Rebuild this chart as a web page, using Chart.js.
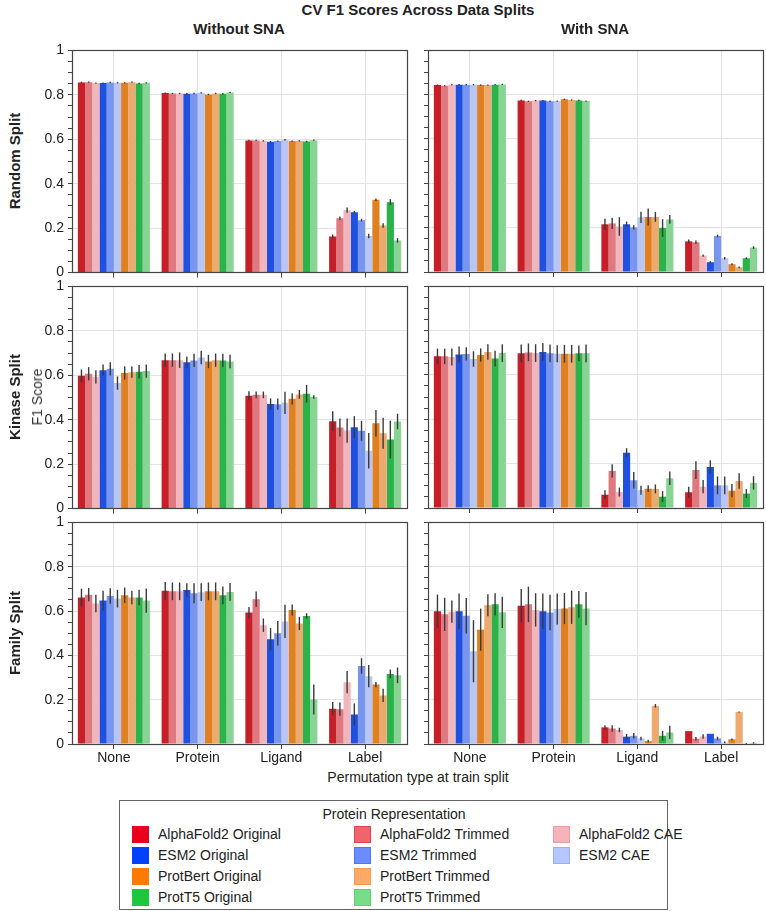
<!DOCTYPE html>
<html>
<head>
<meta charset="utf-8">
<script src="https://cdn.jsdelivr.net/npm/chart.js@4.4.1/dist/chart.umd.min.js"></script>
<style>
  html, body { margin:0; padding:0; background:#fff; }
  #fig { position:relative; width:766px; height:911px; overflow:hidden; font-family:"Liberation Sans", Arial, sans-serif; color:#222; }
  canvas { position:absolute; }
  .txt { position:absolute; white-space:nowrap; }
  .title { font-weight:bold; font-size:15px; transform:translate(-50%,-50%); }
  .col { font-weight:bold; font-size:15px; transform:translate(-50%,-50%); }
  .row { font-weight:bold; font-size:15px; transform:translate(-50%,-50%) rotate(-90deg); }
  .ylab { font-size:14px; color:#333; transform:translate(-50%,-50%) rotate(-90deg); }
  .xlab { font-size:14px; transform:translate(-50%,-50%); }
  #legend { position:absolute; left:119px; top:800px; width:549px; height:110px; border:1px solid #666; box-sizing:border-box; }
  .lgtitle { position:absolute; font-size:14px; white-space:nowrap; transform:translate(-50%,-50%); }
  .sw { position:absolute; width:17px; height:17px; box-sizing:border-box; }
  .lt { position:absolute; font-size:14px; white-space:nowrap; transform:translateY(-50%); }
</style>
</head>
<body>
<div id="fig"></div>
<script>
// ---------- data ----------
const categories = ["None", "Protein", "Ligand", "Label"];
const seriesNames = [
  "AlphaFold2 Original", "AlphaFold2 Trimmed", "AlphaFold2 CAE",
  "ESM2 Original", "ESM2 Trimmed", "ESM2 CAE",
  "ProtBert Original", "ProtBert Trimmed",
  "ProtT5 Original", "ProtT5 Trimmed"
];
const yTicks = [0, 0.2, 0.4, 0.6, 0.8, 1];

// rows = series (order above), columns = categories
const randomWithout = [
  [0.856, 0.808, 0.595, 0.163],
  [0.857, 0.806, 0.595, 0.245],
  [0.853, 0.806, 0.593, 0.281],
  [0.853, 0.805, 0.589, 0.272],
  [0.856, 0.806, 0.592, 0.236],
  [0.854, 0.809, 0.598, 0.165],
  [0.854, 0.802, 0.592, 0.328],
  [0.857, 0.806, 0.593, 0.212],
  [0.851, 0.805, 0.590, 0.317],
  [0.854, 0.811, 0.596, 0.145]
];
const randomWithoutErr = [
  [0.003, 0.003, 0.003, 0.008],
  [0.003, 0.003, 0.003, 0.008],
  [0.003, 0.003, 0.003, 0.012],
  [0.003, 0.003, 0.003, 0.006],
  [0.003, 0.003, 0.003, 0.006],
  [0.003, 0.003, 0.003, 0.010],
  [0.003, 0.003, 0.003, 0.006],
  [0.003, 0.003, 0.003, 0.010],
  [0.003, 0.003, 0.003, 0.013],
  [0.003, 0.003, 0.003, 0.010]
];
const randomWith = [
  [0.842, 0.773, 0.215, 0.138],
  [0.839, 0.769, 0.219, 0.134],
  [0.844, 0.772, 0.205, 0.074],
  [0.844, 0.772, 0.215, 0.044],
  [0.844, 0.769, 0.201, 0.162],
  [0.844, 0.770, 0.246, 0.062],
  [0.842, 0.778, 0.248, 0.035],
  [0.842, 0.775, 0.248, 0.021],
  [0.844, 0.773, 0.198, 0.062],
  [0.845, 0.770, 0.237, 0.110]
];
const randomWithErr = [
  [0.003, 0.003, 0.025, 0.008],
  [0.003, 0.003, 0.025, 0.008],
  [0.003, 0.003, 0.042, 0.005],
  [0.003, 0.003, 0.012, 0.005],
  [0.003, 0.003, 0.010, 0.006],
  [0.003, 0.003, 0.025, 0.006],
  [0.003, 0.003, 0.038, 0.004],
  [0.003, 0.003, 0.022, 0.004],
  [0.003, 0.003, 0.040, 0.004],
  [0.003, 0.003, 0.020, 0.006]
];
const kinaseWithout = [
  [0.598, 0.668, 0.508, 0.393],
  [0.607, 0.668, 0.512, 0.365],
  [0.593, 0.668, 0.512, 0.351],
  [0.623, 0.659, 0.471, 0.366],
  [0.629, 0.667, 0.470, 0.350],
  [0.565, 0.680, 0.476, 0.260],
  [0.610, 0.662, 0.494, 0.384],
  [0.614, 0.668, 0.514, 0.339],
  [0.616, 0.667, 0.517, 0.311],
  [0.619, 0.662, 0.502, 0.392]
];
const kinaseWithoutErr = [
  [0.028, 0.030, 0.020, 0.045],
  [0.030, 0.030, 0.015, 0.040],
  [0.030, 0.035, 0.015, 0.055],
  [0.025, 0.025, 0.025, 0.050],
  [0.030, 0.030, 0.025, 0.045],
  [0.030, 0.030, 0.050, 0.080],
  [0.030, 0.030, 0.025, 0.060],
  [0.025, 0.030, 0.020, 0.070],
  [0.030, 0.030, 0.040, 0.085],
  [0.030, 0.030, 0.008, 0.035]
];
const kinaseWith = [
  [0.683, 0.697, 0.060, 0.071],
  [0.683, 0.701, 0.167, 0.171],
  [0.680, 0.698, 0.072, 0.096],
  [0.692, 0.703, 0.249, 0.185],
  [0.694, 0.697, 0.125, 0.102],
  [0.671, 0.695, 0.080, 0.102],
  [0.689, 0.695, 0.087, 0.078],
  [0.703, 0.695, 0.086, 0.122],
  [0.673, 0.697, 0.051, 0.065],
  [0.698, 0.697, 0.134, 0.113]
];
const kinaseWithErr = [
  [0.035, 0.040, 0.020, 0.025],
  [0.035, 0.040, 0.030, 0.040],
  [0.038, 0.040, 0.020, 0.030],
  [0.035, 0.040, 0.020, 0.030],
  [0.030, 0.040, 0.037, 0.040],
  [0.035, 0.038, 0.020, 0.040],
  [0.030, 0.040, 0.015, 0.030],
  [0.035, 0.040, 0.020, 0.035],
  [0.035, 0.035, 0.025, 0.020],
  [0.040, 0.040, 0.030, 0.030]
];
const familyWithout = [
  [0.661, 0.691, 0.593, 0.159],
  [0.674, 0.689, 0.653, 0.157],
  [0.634, 0.689, 0.536, 0.279],
  [0.647, 0.695, 0.473, 0.133],
  [0.668, 0.680, 0.500, 0.352],
  [0.656, 0.685, 0.553, 0.306],
  [0.671, 0.689, 0.605, 0.268],
  [0.661, 0.689, 0.544, 0.219],
  [0.661, 0.671, 0.578, 0.316],
  [0.647, 0.686, 0.201, 0.310]
];
const familyWithoutErr = [
  [0.040, 0.040, 0.025, 0.030],
  [0.030, 0.040, 0.035, 0.030],
  [0.040, 0.040, 0.030, 0.050],
  [0.045, 0.030, 0.050, 0.050],
  [0.035, 0.045, 0.055, 0.035],
  [0.040, 0.040, 0.075, 0.050],
  [0.035, 0.040, 0.025, 0.012],
  [0.030, 0.040, 0.030, 0.030],
  [0.035, 0.040, 0.012, 0.020],
  [0.055, 0.040, 0.068, 0.035]
];
const familyWith = [
  [0.598, 0.623, 0.075, 0.058],
  [0.584, 0.629, 0.070, 0.024],
  [0.596, 0.604, 0.063, 0.034],
  [0.598, 0.598, 0.033, 0.046],
  [0.578, 0.592, 0.037, 0.025],
  [0.418, 0.608, 0.025, 0.007],
  [0.515, 0.610, 0.013, 0.021],
  [0.625, 0.616, 0.172, 0.144],
  [0.629, 0.629, 0.037, 0.002],
  [0.593, 0.610, 0.052, 0.005]
];
const familyWithErr = [
  [0.075, 0.075, 0.010, 0.000],
  [0.075, 0.080, 0.015, 0.008],
  [0.050, 0.075, 0.010, 0.010],
  [0.080, 0.080, 0.012, 0.000],
  [0.080, 0.080, 0.012, 0.008],
  [0.140, 0.070, 0.008, 0.004],
  [0.095, 0.070, 0.006, 0.004],
  [0.050, 0.075, 0.008, 0.002],
  [0.050, 0.060, 0.022, 0.002],
  [0.070, 0.075, 0.030, 0.003]
];

// ---------- styles ----------
const barColors = ["#c81e28", "#e07880", "#f0b6bc", "#2050e0", "#7896f0", "#b8c6f5", "#e08020", "#ecaa70", "#2cb24a", "#88d492"];
const legendFill = ["#e8001c", "#f0646e", "#f5b4ba", "#0040ff", "#6a8cff", "#b4c8ff", "#ff7a00", "#ffaa66", "#1ec83c", "#78dc88"];
const legendEdge = ["#e8001c", "#e84050", "#f09aa4", "#0040ff", "#5078f0", "#98b0f8", "#ff7a00", "#f89a50", "#1ec83c", "#60d070"];
const legendColumns = [[0, 3, 6, 8], [1, 4, 7, 9], [2, 5]];

const fig = document.getElementById('fig');
function addText(cls, text, x, y) {
  const d = document.createElement('div');
  d.className = 'txt ' + cls; d.textContent = text;
  d.style.left = x + 'px'; d.style.top = y + 'px';
  fig.appendChild(d); return d;
}

const framePlugin = {
  id: 'frame',
  afterDatasetsDraw(chart) {
    const a = chart.chartArea, c = chart.ctx;
    c.save(); c.strokeStyle = '#444'; c.lineWidth = 1.2;
    c.strokeRect(Math.round(a.left) + 0.5, Math.round(a.top) + 0.5, Math.round(a.right - a.left), Math.round(a.bottom - a.top));
    c.restore();
  }
};
const errPlugin = {
  id: 'errbars',
  afterDatasetsDraw(chart) {
    const c = chart.ctx, y = chart.scales.y;
    c.save(); c.strokeStyle = '#3a3a3a'; c.lineWidth = 1.4;
    chart.data.datasets.forEach((ds, i) => {
      const meta = chart.getDatasetMeta(i);
      meta.data.forEach((bar, j) => {
        const v = ds.data[j], e = ds.err[j];
        if (!e) return;
        c.beginPath();
        c.moveTo(bar.x, y.getPixelForValue(v - e));
        c.lineTo(bar.x, y.getPixelForValue(v + e));
        c.stroke();
      });
    });
    c.restore();
  }
};

function isMajor(v) { return Math.round(v * 100) % 20 === 0; }

function panelConfig(values, errors, o) {
  return {
    type: 'bar',
    data: {
      labels: categories,
      datasets: seriesNames.map((s, i) => ({
        label: s, data: values[i], err: errors[i],
        backgroundColor: barColors[i], borderWidth: 0
      }))
    },
    options: {
      responsive: false, animation: false, devicePixelRatio: 1,
      layout: { padding: { top: 8, right: 4, left: 0, bottom: 0 } },
      plugins: { legend: { display: false }, tooltip: { enabled: false } },
      datasets: { bar: { categoryPercentage: 0.86, barPercentage: 1 } },
      scales: {
        x: {
          grid: { offset: false, color: '#e4e4e4', tickColor: '#444', tickLength: 5 },
          border: { display: false },
          ticks: { display: o.showX, color: '#222', padding: 1, font: { family: 'Liberation Sans', size: 14 } },
          afterFit: s => { s.height = o.xH; }
        },
        y: {
          min: 0, max: 1,
          grid: {
            color: c => (c.tick && isMajor(c.tick.value) && c.tick.value > 0.01 && c.tick.value < 0.99) ? '#e4e4e4' : 'rgba(0,0,0,0)',
            tickColor: '#444', tickLength: 4
          },
          border: { display: false },
          ticks: {
            stepSize: 0.05, maxTicksLimit: 21, autoSkip: false, padding: 4,
            display: o.showY, color: '#222', font: { family: 'Liberation Sans', size: 14 },
            callback: v => (yTicks.some(t => Math.abs(t - v) < 1e-6) ? String(+v.toFixed(1)) : '')
          },
          afterFit: s => { s.width = o.yW; }
        }
      }
    },
    plugins: [framePlugin, errPlugin]
  };
}

function newCanvas(w, h) {
  const cv = document.createElement('canvas');
  cv.width = w; cv.height = h;
  cv.style.width = w + 'px'; cv.style.height = h + 'px';
  fig.appendChild(cv);
  return cv;
}

// target plot rectangle: o.left, o.top, o.pw, o.ph (page px)
function makePanel(values, errors, o) {
  // pass 1: measure the layout margins around the plot area
  const w0 = o.pw + 60, h0 = o.ph + 40;
  const probe = newCanvas(w0, h0);
  const c0 = new Chart(probe.getContext('2d'), panelConfig(values, errors, o));
  const a0 = c0.chartArea;
  const dl = a0.left, dt = a0.top, dr = w0 - a0.right, db = h0 - a0.bottom;
  c0.destroy(); probe.remove();
  // pass 2: canvas sized so the plot area is exactly pw x ph
  const w = Math.round(o.pw + dl + dr), h = Math.round(o.ph + dt + db);
  const cv = newCanvas(w, h);
  const chart = new Chart(cv.getContext('2d'), panelConfig(values, errors, o));
  const a = chart.chartArea;
  cv.style.left = Math.round(o.left - a.left) + 'px';
  cv.style.top = Math.round(o.top - a.top) + 'px';
}

const leftCol = { left: 72, pw: 335, yW: 32, showY: true };
const rightCol = { left: 428, pw: 335, yW: 18, showY: false };
const rows = [
  { top: 50, ph: 222, xH: 8, showX: false },
  { top: 286, ph: 222, xH: 8, showX: false },
  { top: 522, ph: 222, xH: 24, showX: true }
];
const panels = [
  [randomWithout, randomWithoutErr, leftCol, rows[0]],
  [randomWith, randomWithErr, rightCol, rows[0]],
  [kinaseWithout, kinaseWithoutErr, leftCol, rows[1]],
  [kinaseWith, kinaseWithErr, rightCol, rows[1]],
  [familyWithout, familyWithoutErr, leftCol, rows[2]],
  [familyWith, familyWithErr, rightCol, rows[2]]
];
panels.forEach(([v, e, c, r]) => makePanel(v, e, Object.assign({}, c, r)));

// ---------- texts ----------
addText('title', 'CV F1 Scores Across Data Splits', 418, 9);
addText('col', 'Without SNA', 239, 28);
addText('col', 'With SNA', 595, 28);
addText('row', 'Random Split', 14, 161);
addText('row', 'Kinase Split', 14, 397);
addText('row', 'Family Split', 14, 633);
addText('ylab', 'F1 Score', 37, 397);
addText('xlab', 'Permutation type at train split', 418, 777);

// ---------- legend ----------
const lg = document.createElement('div'); lg.id = 'legend'; fig.appendChild(lg);
const lt = document.createElement('div'); lt.className = 'lgtitle'; lt.textContent = 'Protein Representation';
lt.style.left = (393 - 119) + 'px'; lt.style.top = (813 - 800) + 'px'; lg.appendChild(lt);
const colX = [131, 353, 552];
legendColumns.forEach((col, ci) => {
  col.forEach((si, ri) => {
    const cy = 833 + ri * 21 - 800;
    const sw = document.createElement('div'); sw.className = 'sw';
    sw.style.left = (colX[ci] - 119) + 'px'; sw.style.top = (cy - 8.5) + 'px';
    sw.style.background = legendFill[si]; sw.style.border = '1.5px solid ' + legendEdge[si];
    lg.appendChild(sw);
    const t = document.createElement('div'); t.className = 'lt'; t.textContent = seriesNames[si];
    t.style.left = (colX[ci] - 119 + 26) + 'px'; t.style.top = cy + 'px';
    lg.appendChild(t);
  });
});
</script>
</body>
</html>
